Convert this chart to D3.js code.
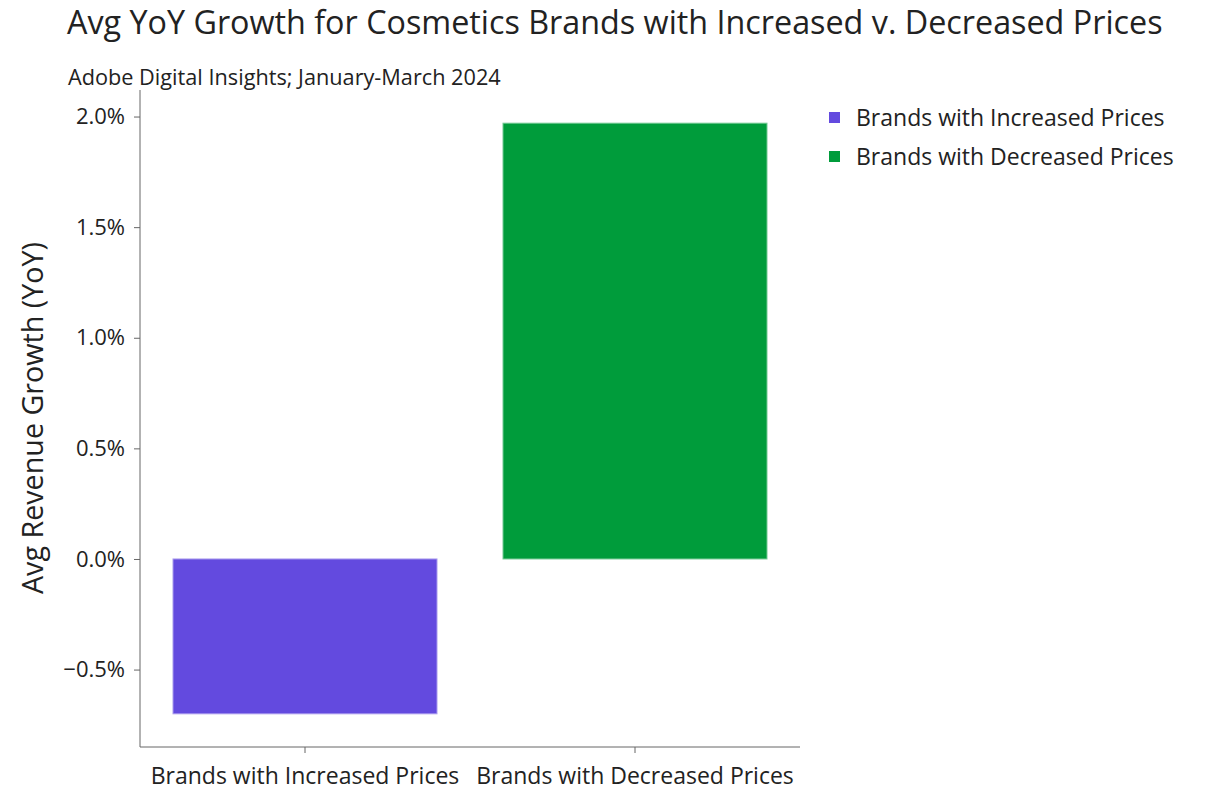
<!DOCTYPE html>
<html lang="en">
<head>
<meta charset="utf-8">
<title>Avg YoY Growth for Cosmetics Brands</title>
<script src="https://cdn.jsdelivr.net/npm/d3@7"></script>
<style>
  body { margin: 0; background: #fff; }
  text { font-family: "Open Sans", "Noto Sans", sans-serif; fill: #222; }
  .axis path, .axis line { stroke: #666; }
</style>
</head>
<body>
<script>
// data
var categories = ["Brands with Increased Prices", "Brands with Decreased Prices"];
var growthValues = [-0.70, 1.97];
var barColors = ["#634ADF", "#009C3B"];
var yTicks = [-0.5, 0, 0.5, 1.0, 1.5, 2.0];

var width = 1211, height = 791;
var margin = {top: 90, right: 411, bottom: 44, left: 140};

var svg = d3.select("body").append("svg")
  .attr("width", width)
  .attr("height", height);

var xScale = d3.scaleBand()
  .domain(categories)
  .range([margin.left, width - margin.right])
  .paddingInner(0.2)
  .paddingOuter(0.1);

var yScale = d3.scaleLinear()
  .domain([-0.85, 2.12])
  .range([height - margin.bottom, margin.top]);

// title + subtitle
svg.append("text")
  .attr("x", 67).attr("y", 34)
  .style("font-size", "32.3px")
  .text("Avg YoY Growth for Cosmetics Brands with Increased v. Decreased Prices");

svg.append("text")
  .attr("x", 68).attr("y", 85)
  .style("font-size", "21.7px")
  .text("Adobe Digital Insights; January-March 2024");

// axes
var yAxis = d3.axisLeft(yScale)
  .tickValues(yTicks)
  .tickSize(6)
  .tickPadding(9)
  .tickFormat(function(d){ return (d < 0 ? "\u2212" : "") + Math.abs(d).toFixed(1) + "%"; });

svg.append("g")
  .attr("class", "axis")
  .attr("transform", "translate(" + margin.left + ",0)")
  .call(yAxis)
  .call(function(g){ g.select(".domain").attr("d", "M0," + yScale.range()[1] + "V" + yScale.range()[0]); })
  .selectAll("text").style("font-size", "22px").attr("fill", "#222");

var xAxis = d3.axisBottom(xScale)
  .tickSize(6)
  .tickPadding(15);

svg.append("g")
  .attr("class", "axis")
  .attr("transform", "translate(0," + (height - margin.bottom) + ")")
  .call(xAxis)
  .call(function(g){ g.select(".domain").attr("d", "M" + xScale.range()[0] + ",0H" + xScale.range()[1]); })
  .selectAll("text").style("font-size", "23px").attr("fill", "#222");

// y-axis title
svg.append("text")
  .attr("transform", "translate(43," + 418 + ") rotate(-90)")
  .attr("text-anchor", "middle")
  .style("font-size", "28.7px")
  .text("Avg Revenue Growth (YoY)");

// bars
svg.selectAll("rect.bar")
  .data(categories)
  .enter()
  .append("rect")
  .attr("class", "bar")
  .attr("x", function(d){ return xScale(d); })
  .attr("width", xScale.bandwidth())
  .attr("y", function(d, i){ return yScale(Math.max(0, growthValues[i])); })
  .attr("height", function(d, i){ return Math.abs(yScale(growthValues[i]) - yScale(0)); })
  .attr("fill", function(d, i){ return barColors[i]; })
  .attr("stroke", function(d, i){ return d3.interpolateRgb(barColors[i], "#fff")(0.45); })
  .attr("stroke-width", 1);

// legend
var legend = svg.append("g").attr("transform", "translate(829,0)");
var items = legend.selectAll("g")
  .data(categories)
  .enter()
  .append("g")
  .attr("transform", function(d, i){ return "translate(0," + (118 + i * 39) + ")"; });

items.append("rect")
  .attr("x", 0).attr("y", -6)
  .attr("width", 11).attr("height", 11)
  .attr("fill", function(d, i){ return barColors[i]; });

items.append("text")
  .attr("x", 27).attr("y", 8)
  .style("font-size", "23px")
  .text(function(d){ return d; });
</script>
</body>
</html>
